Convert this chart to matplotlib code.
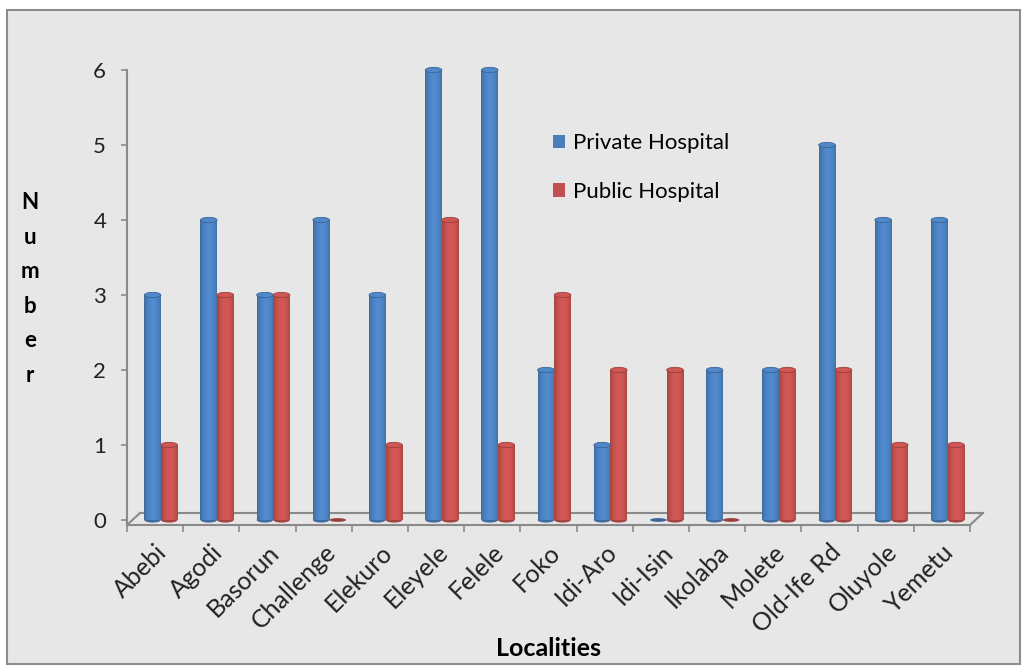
import numpy as np
import matplotlib
matplotlib.use("Agg")
import matplotlib.pyplot as plt
from matplotlib.patches import Rectangle, Ellipse, Patch
from matplotlib.colors import to_rgb

# ---------------- data ----------------
localities = ["Abebi", "Agodi", "Basorun", "Challenge", "Elekuro", "Eleyele",
              "Felele", "Foko", "Idi-Aro", "Idi-Isin", "Ikolaba", "Molete",
              "Old-Ife Rd", "Oluyole", "Yemetu"]
private_hosp = [3, 4, 3, 4, 3, 6, 6, 2, 1, 0, 2, 2, 5, 4, 4]
public_hosp = [1, 3, 3, 0, 1, 4, 1, 3, 2, 2, 0, 2, 2, 1, 1]

BLUE = "#4A7EBB"
RED = "#C0504D"

plt.rcParams["font.family"] = ["Lato", "DejaVu Sans"]

W, H = 1027, 670
fig = plt.figure(figsize=(W / 100, H / 100), dpi=100, facecolor="white")

# chart area background with border
fig.patches.append(Rectangle((7 / W, 1 - 664 / H), 1013 / W, 654 / H,
                             transform=fig.transFigure, facecolor="#e7e7e7",
                             edgecolor="#8c8c8c", linewidth=1.5, zorder=-5))

ax = fig.add_axes([127 / W, 1 - 525 / H, 843 / W, 455 / H])
ax.set_facecolor("none")
ax.set_zorder(2)

Y0 = -0.067   # front edge of the floor
DEPTH_X, DEPTH_Y = 0.23, 0.16


def shade(color, n=40):
    """horizontal gradient giving a cylinder look"""
    base = np.array(to_rgb(color))
    t = np.linspace(0, 1, n)
    k = 0.72 + 0.38 * np.sin(np.pi * (t * 0.85 + 0.05)) ** 0.6
    k = np.clip(k, 0, 1.12)
    rgb = np.clip(base[None, :] * k[:, None], 0, 1)
    return rgb[None, :, :]


def cylinder(xc, h, w, color):
    x0, x1 = xc - w / 2, xc + w / 2
    c = np.array(to_rgb(color))
    if h > 0:
        ax.imshow(shade(color), extent=[x0, x1, 0, h], aspect="auto",
                  interpolation="bilinear", zorder=3)
        ax.add_patch(Ellipse((xc, 0), w, 0.07, facecolor=c * 0.85,
                             edgecolor="none", zorder=2.9))
        ax.add_patch(Ellipse((xc, h), w, 0.07, facecolor=np.clip(c * 1.08, 0, 1),
                             edgecolor=c * 0.8, linewidth=0.6,
                             zorder=4, clip_on=False))
    else:
        ax.add_patch(Ellipse((xc, 0.0), w, 0.05, facecolor=c * 0.8,
                             edgecolor="none", zorder=4))


x = np.arange(len(localities))
bw = 0.295
for i in x:
    cylinder(i - 0.045, private_hosp[i], bw, BLUE)
    cylinder(i + 0.25, public_hosp[i], bw, RED)

# floor of the 3d plot
grey = "#8a8a8a"
ax.plot([-0.5 + DEPTH_X, 14.5 + DEPTH_X], [Y0 + DEPTH_Y] * 2, color=grey, lw=1.5,
        zorder=1, clip_on=False)
ax.plot([-0.5, -0.5 + DEPTH_X], [Y0, Y0 + DEPTH_Y], color=grey, lw=1.5, zorder=1)
ax.plot([14.5, 14.5 + DEPTH_X], [Y0, Y0 + DEPTH_Y], color=grey, lw=1.5,
        zorder=1, clip_on=False)

ax.set_xlim(-0.5, 14.5)
ax.set_ylim(Y0, 6)

for s in ["top", "right"]:
    ax.spines[s].set_visible(False)
for s in ["left", "bottom"]:
    ax.spines[s].set_color(grey)
    ax.spines[s].set_linewidth(1.5)

ax.set_yticks(range(7))
ax.tick_params(axis="y", length=4, width=1.2, color=grey, pad=11,
               labelsize=16, labelcolor="#222222")

ax.set_xticks(np.arange(-0.5, 15, 1))
ax.set_xticklabels([])
ax.tick_params(axis="x", which="major", length=5, width=1.2, color=grey)
ax.set_xticks(x, minor=True)
ax.set_xticklabels(localities, minor=True, rotation=45, ha="right",
                   rotation_mode="anchor", fontsize=18, color="#222222")
ax.tick_params(axis="x", which="minor", length=0, pad=11)

# axis titles
fig.text(30 / W, 1 - 289 / H, "\n".join("Number"), ha="center", va="center",
         fontsize=16, fontweight="bold", linespacing=1.8)
fig.text(548 / W, 1 - 648 / H, "Localities", ha="center", va="center",
         fontsize=18, fontweight="bold")

handles = [Patch(facecolor=BLUE), Patch(facecolor=RED)]
fig.legend(handles, ["Private Hospital", "Public Hospital"],
           loc="upper left", bbox_to_anchor=(542 / W, 1 - 122 / H),
           frameon=False, fontsize=16, handlelength=0.55, handleheight=0.55,
           handletextpad=0.35, labelspacing=1.3, borderpad=0)

fig.savefig("out.png", dpi=100, facecolor=fig.get_facecolor())
